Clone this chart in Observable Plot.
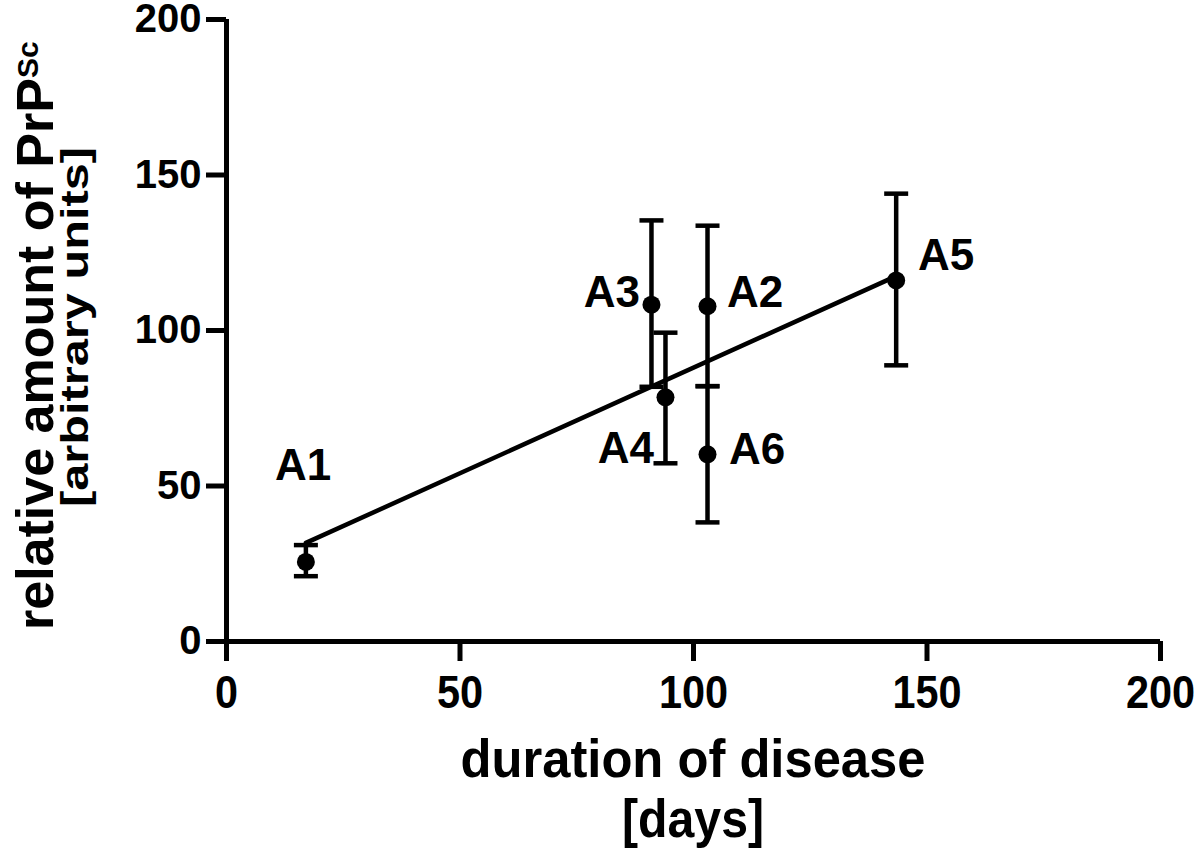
<!DOCTYPE html>
<html>
<head>
<meta charset="utf-8">
<script src="https://cdn.jsdelivr.net/npm/d3@7"></script>
<script src="https://cdn.jsdelivr.net/npm/@observablehq/plot@0.6"></script>
<style>
  html, body { margin: 0; padding: 0; background: #fff; }
  #chart svg { display: block; }
</style>
</head>
<body>
<div id="chart"></div>
<script>
// ---- data ----
const animals   = ["A1", "A2", "A3", "A4", "A5", "A6"];
const days      = [17, 103, 91, 94, 143.4, 103];
const prpMean   = [25.6, 107.8, 108.3, 78.5, 116.1, 60.2];
const prpLow    = [21.0, 82.1, 81.9, 57.3, 88.8, 38.3];
const prpHigh   = [31.0, 133.7, 135.4, 99.3, 144.0, 82.1];
// label anchor positions (data units)
const labelDays = [16.4, 113.2, 82.5, 85.5, 154.1, 113.6];
const labelPrp  = [56.4, 112.0, 112.0, 61.8, 123.9, 61.5];
// fitted line end points (data units)
const fitDays   = [17, 143.4];
const fitPrp    = [31.7, 117.5];
// ticks
const xTicks = [0, 50, 100, 150, 200];
const yTicks = [0, 50, 100, 150, 200];

const FONT = "'Liberation Sans', Arial, Helvetica, sans-serif";

const rows = animals.map((id, i) => ({
  id, x: days[i], y: prpMean[i], lo: prpLow[i], hi: prpHigh[i],
  lx: labelDays[i], ly: labelPrp[i]
}));
const fit = fitDays.map((d, i) => ({x: d, y: fitPrp[i]}));

// horizontal cap symbol for error bars
const capSymbol = {
  draw(context) {
    context.moveTo(-12, 0);
    context.lineTo(12, 0);
  }
};

const chart = Plot.plot({
  width: 1200,
  height: 849,
  marginLeft: 226,
  marginRight: 40,
  marginTop: 19,
  marginBottom: 208,
  style: {fontFamily: FONT, fontWeight: "bold", color: "black", background: "white"},
  x: {domain: [0, 200], ticks: xTicks, tickSize: 20, tickPadding: 14, label: null},
  y: {domain: [0, 200], ticks: yTicks, tickSize: 20, tickPadding: 5, label: null},
  marks: [
    Plot.ruleX([0], {stroke: "black", strokeWidth: 5}),
    Plot.ruleY([0], {stroke: "black", strokeWidth: 5}),
    Plot.ruleX(rows, {x: "x", y1: "lo", y2: "hi", stroke: "black", strokeWidth: 4.5}),
    Plot.dot(rows, {x: "x", y: "lo", symbol: capSymbol, r: 5, stroke: "black", strokeWidth: 4.5, fill: "none"}),
    Plot.dot(rows, {x: "x", y: "hi", symbol: capSymbol, r: 5, stroke: "black", strokeWidth: 4.5, fill: "none"}),
    Plot.line(fit, {x: "x", y: "y", stroke: "black", strokeWidth: 4.5}),
    Plot.dot(rows, {x: "x", y: "y", r: 9, fill: "black", stroke: "none"}),
    Plot.text(rows, {x: "lx", y: "ly", text: "id", fontSize: 44, fontWeight: "bold",
                     fontFamily: FONT, fill: "black", ariaLabel: "point-labels"})
  ]
});

document.getElementById("chart").appendChild(chart);
const svg = d3.select(chart);

// axis tick thickness
svg.selectAll('g[aria-label="x-axis tick"], g[aria-label="y-axis tick"]')
  .style("stroke-width", "5px").style("stroke", "black");
svg.selectAll('g[aria-label="x-axis"] line, g[aria-label="y-axis"] line')
  .style("stroke-width", "5px").style("stroke", "black");

// tick label fonts
const yLabels = svg.selectAll('g[aria-label="y-axis tick label"] text, g[aria-label="y-axis"] text');
yLabels.style("font-size", "40px").style("font-weight", "bold").style("font-family", FONT).style("fill", "black");
const xLabels = svg.selectAll('g[aria-label="x-axis tick label"] text, g[aria-label="x-axis"] text');
xLabels.style("font-size", "46px").style("font-weight", "bold").style("font-family", FONT).style("fill", "black");
xLabels.each(function() {
  const L = this.getComputedTextLength();
  this.setAttribute("textLength", (L * 0.9).toFixed(1));
  this.setAttribute("lengthAdjust", "spacingAndGlyphs");
});
svg.selectAll('g[aria-label="point-labels"] text').each(function() {
  const L = this.getComputedTextLength();
  this.setAttribute("textLength", (L * 0.88).toFixed(1));
  this.setAttribute("lengthAdjust", "spacingAndGlyphs");
});

// axis titles
const yt = svg.append("text")
  .attr("transform", "translate(53,630) rotate(-90)")
  .attr("text-anchor", "start")
  .style("font-family", FONT).style("font-weight", "bold").style("font-size", "52px").style("fill", "black");
yt.append("tspan").text("relative amount of PrP");
yt.append("tspan").attr("dy", -15).style("font-size", "30px").text("Sc");

svg.append("text")
  .attr("transform", "translate(88,327) rotate(-90)")
  .attr("text-anchor", "middle")
  .attr("textLength", 360).attr("lengthAdjust", "spacingAndGlyphs")
  .style("font-family", FONT).style("font-weight", "bold").style("font-size", "38px").style("fill", "black")
  .text("[arbitrary units]");

svg.append("text")
  .attr("x", 693).attr("y", 777)
  .attr("text-anchor", "middle")
  .attr("textLength", 465).attr("lengthAdjust", "spacingAndGlyphs")
  .style("font-family", FONT).style("font-weight", "bold").style("font-size", "54px").style("fill", "black")
  .text("duration of disease");

svg.append("text")
  .attr("x", 693).attr("y", 837)
  .attr("text-anchor", "middle")
  .attr("textLength", 142).attr("lengthAdjust", "spacingAndGlyphs")
  .style("font-family", FONT).style("font-weight", "bold").style("font-size", "54px").style("fill", "black")
  .text("[days]");
</script>
</body>
</html>
